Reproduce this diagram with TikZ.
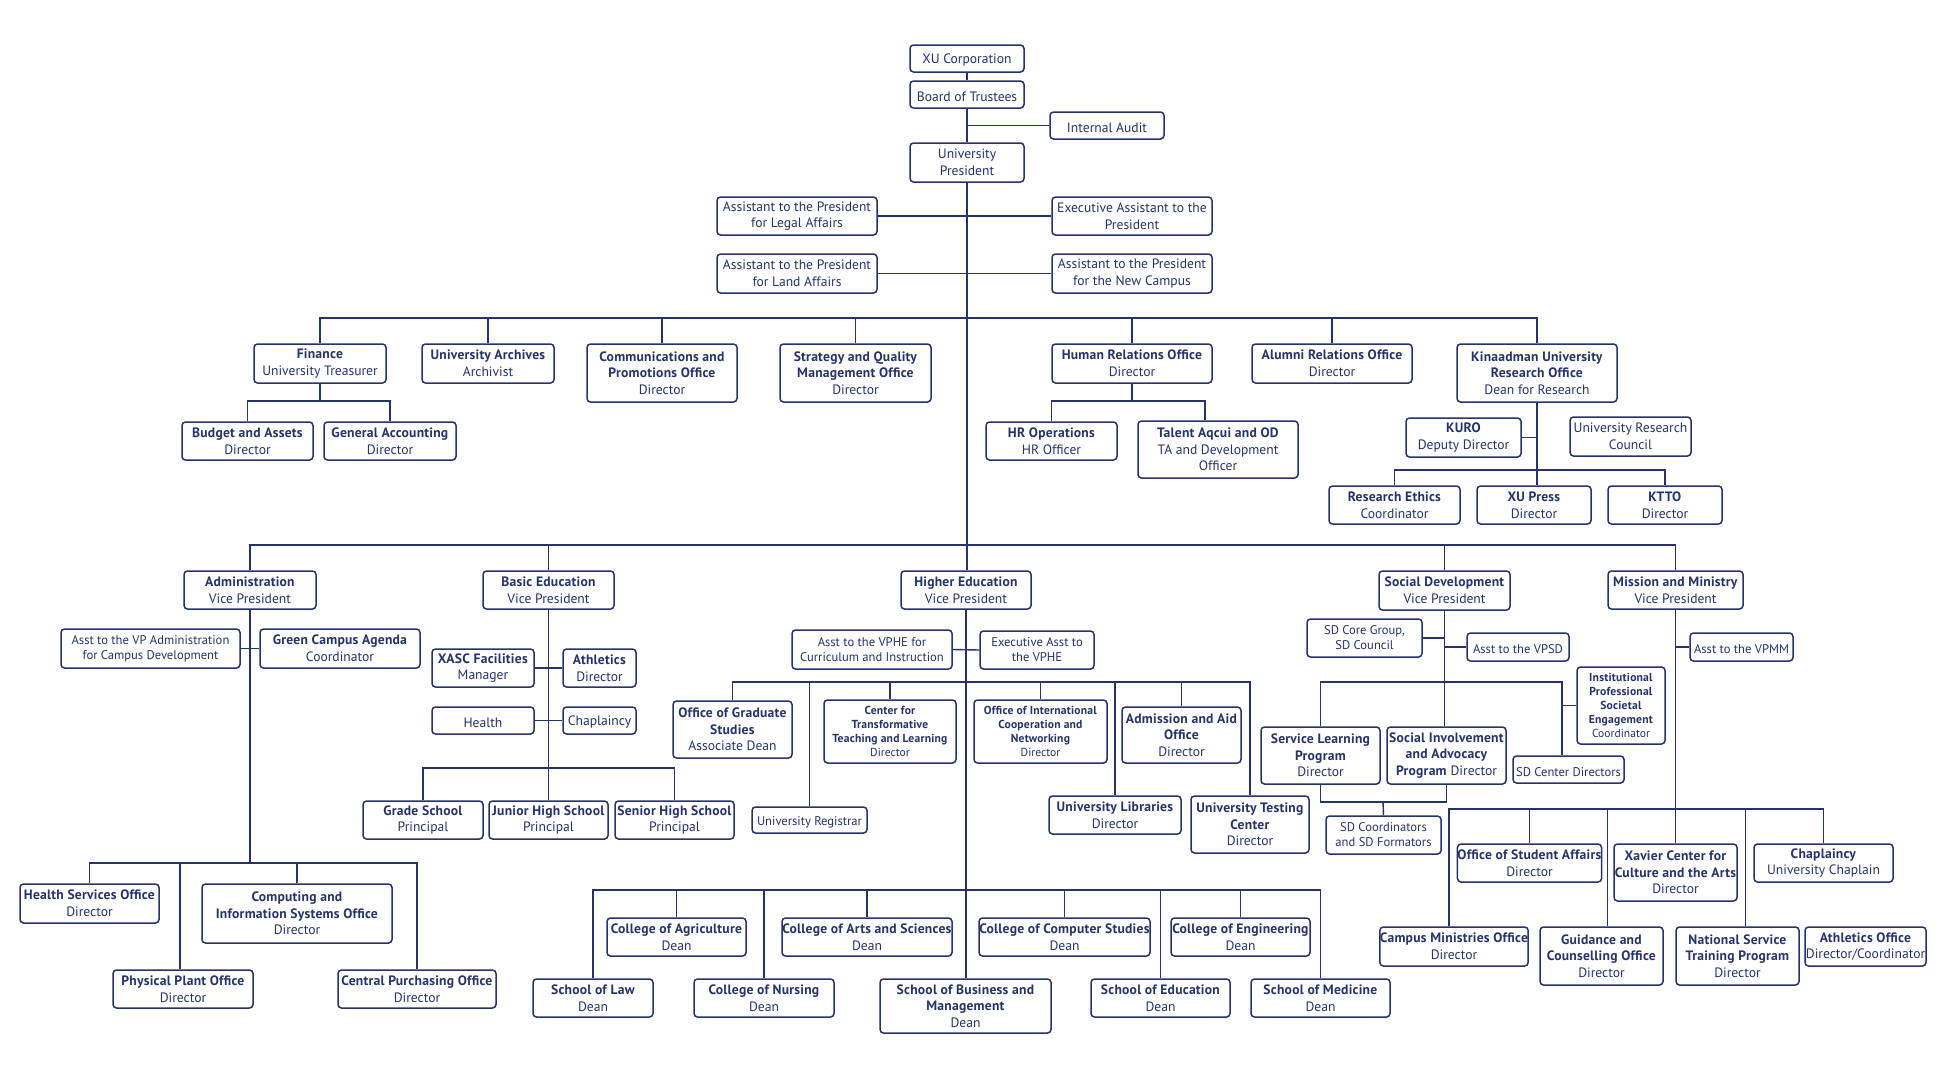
\documentclass[tikz,border=0pt]{standalone}
\usepackage{fontspec}
\setmainfont{PT Sans}[BoldFeatures={LetterSpace=1.8}]
\usetikzlibrary{calc}
\definecolor{navy}{RGB}{38,52,106}
\tikzset{
  box/.style={draw=navy, line width=1.5pt, rounded corners=3.5pt, fill=white, text=navy,
              align=center, inner sep=0pt, font=\fontsize{13.6}{16.6}\selectfont,
              execute at begin node={\rule{0pt}{13.5pt}}},
  sm/.style={font=\fontsize{11.6}{13.8}\selectfont},
  md/.style={font=\fontsize{12.6}{15}\selectfont},
  ln/.style={draw=navy, line width=1.4pt},
}
\newcommand\B[1]{\textbf{#1}}
\newcommand\orgbox[7][]{%
  \pgfmathsetmacro\obcx{(#3+#5)/2}%
  \pgfmathsetmacro\obcy{(#4+#6)/2}%
  \pgfmathsetmacro\obw{#5-#3}%
  \pgfmathsetmacro\obh{#6-#4}%
  \node[box,#1,minimum width=\obw pt,minimum height=\obh pt] (#2) at (\obcx,\obcy) {#7};}
\begin{document}
\begin{tikzpicture}[x=1pt,y=-1pt]
\fill[white] (0,0) rectangle (1945,1090);
\useasboundingbox (0,0) rectangle (1945,1090);

% ---------- top ----------
\orgbox{xu}{910}{45}{1024}{72}{XU Corporation}
\orgbox{bot}{910}{81}{1024}{108}{Board of Trustees}
\orgbox{audit}{1050}{112}{1164}{139}{Internal Audit}
\orgbox{pres}{910}{143}{1024}{182}{University\\President}
\orgbox{legal}{717}{197}{877}{235}{Assistant to the President\\for Legal Affairs}
\orgbox{exec}{1052}{197}{1212}{235}{Executive Assistant to the\\President}
\orgbox{land}{717}{254}{877}{293}{Assistant to the President\\for Land Affairs}
\orgbox{newc}{1052}{254}{1212}{293}{Assistant to the President\\for the New Campus}

% ---------- row 1 ----------
\orgbox{fin}{254}{344}{386}{383}{\B{Finance}\\University Treasurer}
\orgbox{arch}{422}{344}{554}{383}{\B{University Archives}\\Archivist}
\orgbox{comm}{587}{344}{737}{402}{\B{Communications and}\\\B{Promotions Office}\\Director}
\orgbox{strat}{780}{344}{931}{402}{\B{Strategy and Quality}\\\B{Management Office}\\Director}
\orgbox{hr}{1052}{344}{1212}{383}{\B{Human Relations Office}\\Director}
\orgbox{alum}{1252}{344}{1412}{383}{\B{Alumni Relations Office}\\Director}
\orgbox{kin}{1457}{344}{1617}{402}{\B{Kinaadman University}\\\B{Research Office}\\Dean for Research}
\orgbox{budget}{182}{422}{313}{460}{\B{Budget and Assets}\\Director}
\orgbox{genacc}{324}{422}{456}{460}{\B{General Accounting}\\Director}
\orgbox{hrops}{986}{422}{1117}{460}{\B{HR Operations}\\HR Officer}
\orgbox{talent}{1138}{421}{1298}{478}{\B{Talent Aqcui and OD}\\TA and Development\\Officer}
\orgbox{kuro}{1406}{418}{1521}{457}{\B{KURO}\\Deputy Director}
\orgbox{urc}{1570}{417}{1691}{456}{University Research\\Council}
\orgbox{ethics}{1329}{486}{1460}{524}{\B{Research Ethics}\\Coordinator}
\orgbox{press}{1477}{486}{1591}{524}{\B{XU Press}\\Director}
\orgbox{ktto}{1608}{486}{1722}{524}{\B{KTTO}\\Director}

% ---------- VPs ----------
\orgbox{admin}{184}{571}{316}{609}{\B{Administration}\\Vice President}
\orgbox{basic}{483}{571}{614}{609}{\B{Basic Education}\\Vice President}
\orgbox{hedu}{901}{571}{1031}{609}{\B{Higher Education}\\Vice President}
\orgbox{sdev}{1379}{571}{1510}{610}{\B{Social Development}\\Vice President}
\orgbox{mm}{1608}{571}{1743}{609}{\B{Mission and Ministry}\\Vice President}

% ---------- Administration ----------
\orgbox[md]{asstvpa}{61}{629}{240}{668}{Asst to the VP Administration\\for Campus Development}
\orgbox{green}{260}{629}{420}{668}{\B{Green Campus Agenda}\\Coordinator}
\orgbox{hso}{20}{884}{159}{923}{\B{Health Services Office}\\Director}
\orgbox{cis}{202}{884}{392}{943}{\B{Computing and}\\\B{Information Systems Office}\\Director}
\orgbox{ppo}{113}{970}{253}{1008}{\B{Physical Plant Office}\\Director}
\orgbox{cpo}{338}{970}{496}{1008}{\B{Central Purchasing Office}\\Director}

% ---------- Basic Education ----------
\orgbox{xasc}{432}{649}{534}{687}{\B{XASC Facilities}\\Manager}
\orgbox{athl}{563}{649}{636}{687}{\B{Athletics}\\Director}
\orgbox{health}{432}{707}{534}{734}{Health}
\orgbox{chapb}{563}{707}{636}{734}{Chaplaincy}
\orgbox{grade}{363}{801}{483}{839}{\B{Grade School}\\Principal}
\orgbox{jhs}{489}{801}{608}{839}{\B{Junior High School}\\Principal}
\orgbox{shs}{615}{801}{734}{839}{\B{Senior High School}\\Principal}

% ---------- Higher Education ----------
\orgbox[md]{curr}{792}{630}{952}{669}{Asst to the VPHE for\\Curriculum and Instruction}
\orgbox[md]{execvphe}{980}{631}{1094}{669}{Executive Asst to\\the VPHE}
\orgbox{grad}{673}{701}{792}{758}{\B{Office of Graduate}\\\B{Studies}\\Associate Dean}
\orgbox[md]{reg}{752}{807}{867}{833}{University Registrar}
\orgbox[sm]{ctl}{824}{700}{956}{763}{\B{Center for}\\\B{Transformative}\\\B{Teaching and Learning}\\Director}
\orgbox[sm]{intl}{974}{700}{1107}{763}{\B{Office of International}\\\B{Cooperation and}\\\B{Networking}\\Director}
\orgbox{adm}{1122}{707}{1241}{763}{\B{Admission and Aid}\\\B{Office}\\Director}
\orgbox{lib}{1049}{796}{1181}{834}{\B{University Libraries}\\Director}
\orgbox{test}{1191}{796}{1309}{853}{\B{University Testing}\\\B{Center}\\Director}
\orgbox{agri}{607}{918}{746}{956}{\B{College of Agriculture}\\Dean}
\orgbox{arts}{782}{918}{952}{956}{\B{College of Arts and Sciences}\\Dean}
\orgbox{comp}{979}{918}{1150}{956}{\B{College of Computer Studies}\\Dean}
\orgbox{eng}{1171}{918}{1310}{956}{\B{College of Engineering}\\Dean}
\orgbox{law}{533}{979}{653}{1017}{\B{School of Law}\\Dean}
\orgbox{nurs}{694}{979}{834}{1017}{\B{College of Nursing}\\Dean}
\orgbox{sbm}{880}{979}{1051}{1033}{\B{School of Business and}\\\B{Management}\\Dean}
\orgbox{educ}{1091}{979}{1230}{1017}{\B{School of Education}\\Dean}
\orgbox{med}{1251}{979}{1390}{1017}{\B{School of Medicine}\\Dean}

% ---------- Social Development ----------
\orgbox[md]{sdcore}{1307}{619}{1422}{657}{SD Core Group,\\SD Council}
\orgbox[md]{asstsd}{1467}{633}{1569}{661}{Asst to the VPSD}
\orgbox[sm]{ipse}{1577}{667}{1665}{744}{\B{Institutional}\\\B{Professional}\\\B{Societal}\\\B{Engagement}\\Coordinator}
\orgbox{sl}{1261}{727}{1380}{784}{\B{Service Learning}\\\B{Program}\\Director}
\orgbox{sia}{1387}{727}{1506}{784}{\B{Social Involvement}\\\B{and Advocacy}\\\B{Program} Director}
\orgbox[md]{sdc}{1513}{756}{1624}{783}{SD Center Directors}
\orgbox[md]{sdcf}{1326}{816}{1441}{854}{SD Coordinators\\and SD Formators}

% ---------- Mission and Ministry ----------
\orgbox[md]{asstmm}{1690}{633}{1793}{661}{Asst to the VPMM}
\orgbox{osa}{1458}{844}{1601}{882}{\B{Office of Student Affairs}\\Director}
\orgbox{xcca}{1614}{844}{1737}{901}{\B{Xavier Center for}\\\B{Culture and the Arts}\\Director}
\orgbox{chapm}{1754}{844}{1893}{882}{\B{Chaplaincy}\\University Chaplain}
\orgbox{cmo}{1380}{927}{1528}{966}{\B{Campus Ministries Office}\\Director}
\orgbox{guid}{1540}{927}{1663}{985}{\B{Guidance and}\\\B{Counselling Office}\\Director}
\orgbox{nstp}{1676}{927}{1799}{985}{\B{National Service}\\\B{Training Program}\\Director}
\orgbox{athlo}{1805}{927}{1926}{966}{\B{Athletics Office}\\Director/Coordinator}

% ---------- bus coordinates ----------
\coordinate (b1) at (966,318);
\coordinate (b2) at (966,545);
\coordinate (fbus) at (320,401);
\coordinate (hbus) at (1133,401);
\coordinate (kbus) at (1535,470);
\coordinate (abus) at (250,863);
\coordinate (bbus) at (548,768);
\coordinate (hb1) at (966,682);
\coordinate (hb2) at (966,890);
\coordinate (sdb) at (1562,682);
\coordinate (sdl) at (1383,802);
\coordinate (mb) at (1676,809);

% ---------- connectors ----------
\draw[ln] (xu.south) -- (xu.south |- bot.north);
\draw[ln] (bot.south) -- (bot.south |- pres.north);
\draw[ln] (pres.south) -- (pres.south |- hedu.north);
\draw[ln] (hedu.south) -- (hedu.south |- sbm.north);
\draw[ln] (audit.west) -- (audit.west -| bot.south);
\draw[ln] (legal.east) -- (exec.west);
\draw[ln] (land.east) -- (newc.west);

\foreach \n in {fin,arch,comm,strat,hr,alum,kin} \draw[ln] (\n.north) |- (b1);
\foreach \n in {admin,basic,sdev,mm} \draw[ln] (\n.north) |- (b2);

% finance
\draw[ln] (fin.south) -- (fin.south |- fbus);
\draw[ln] (budget.north) |- (fbus) -| (genacc.north);
% HR
\draw[ln] (hr.south) -- (hr.south |- hbus);
\draw[ln] (hrops.north) |- (hbus) -| ([xshift=-13pt]talent.north);
% research
\draw[ln] (kin.south) -- (kin.south |- press.north);
\draw[ln] (kuro.east) -- (kuro.east -| kin.south);
\draw[ln] (ethics.north) |- (kbus) -| (ktto.north);

% administration
\draw[ln] (admin.south) -- (admin.south |- abus);
\draw[ln] (asstvpa.east) -- (green.west);
\draw[ln] (hso.north) |- (abus) -| (cpo.north);
\draw[ln] ([xshift=-3pt]ppo.north) -- ([xshift=-3pt]ppo.north |- abus);
\draw[ln] (cis.north) -- (cis.north |- abus);

% basic education
\draw[ln] (basic.south) -- (basic.south |- jhs.north);
\draw[ln] (xasc.east) -- (athl.west);
\draw[ln] (health.east) -- (chapb.west);
\draw[ln] (grade.north) |- (bbus) -| (shs.north);

% higher education
\draw[ln] (curr.east) -- (execvphe.west);
\draw[ln] (grad.north) |- (hb1) -| (test.north);
\foreach \n in {reg,ctl,intl,lib,adm} \draw[ln] (\n.north) -- (\n.north |- hb1);
\draw[ln] (law.north) |- (hb2) -| (med.north);
\foreach \n in {agri,nurs,arts,comp,educ,eng} \draw[ln] (\n.north) -- (\n.north |- hb2);

% social development
\draw[ln] (sdev.south) -- (sdev.south |- sia.north);
\draw[ln] (sdcore.east) -- (sdcore.east -| sdev.south);
\draw[ln] (asstsd.west) -- (asstsd.west -| sdev.south);
\draw[ln] (sl.north) |- (sdb) -- (sdb |- sdc.north);
\draw[ln] (ipse.west) -- (ipse.west -| sdb);
\draw[ln] (sl.south) |- (sdl);
\draw[ln] (sia.south) |- (sdl);
\draw[ln] (sdl) -- (sdcf.north);

% mission and ministry
\draw[ln] (mm.south) -- (mm.south |- xcca.north);
\draw[ln] (asstmm.west) -- (asstmm.west -| mm.south);
\draw[ln] ([xshift=-5pt]cmo.north) |- (mb) -| (chapm.north);
\draw[ln] (osa.north) -- (osa.north |- mb);
\draw[ln] ([xshift=6pt]guid.north) -- ([xshift=6pt]guid.north |- mb);
\draw[ln] ([xshift=8pt]nstp.north) -- ([xshift=8pt]nstp.north |- mb);
\end{tikzpicture}
\end{document}
